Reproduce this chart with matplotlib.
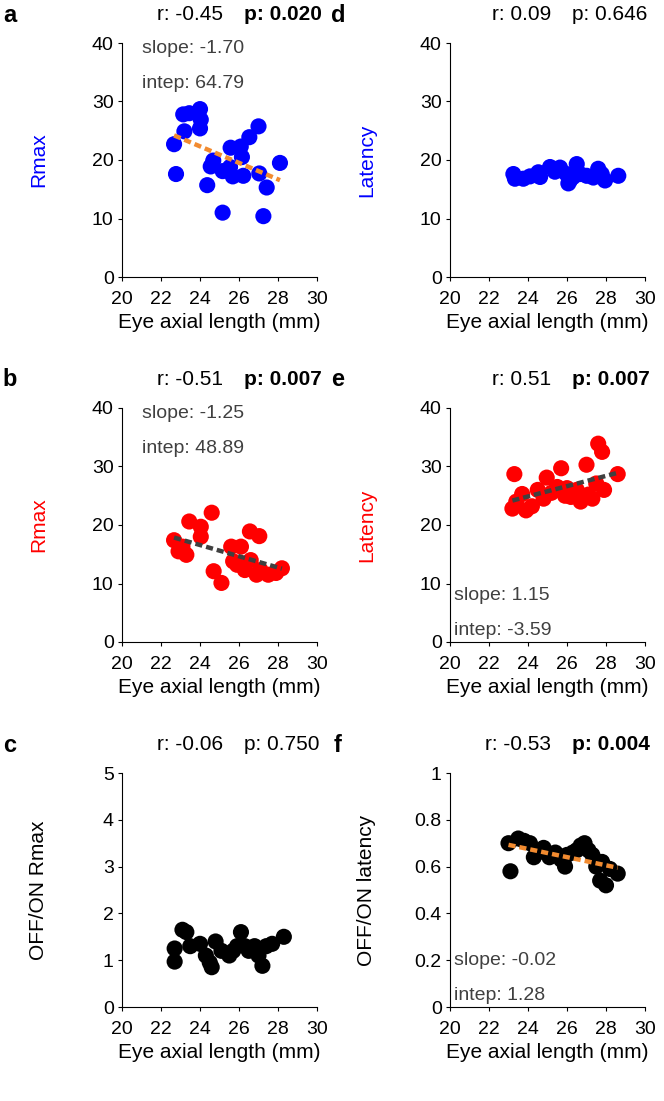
import matplotlib
matplotlib.use('Agg')
import matplotlib.pyplot as plt
import numpy as np

plt.rcParams['font.family'] = ['Liberation Sans', 'DejaVu Sans']
plt.rcParams['font.size'] = 14

# panel a: Rmax (blue)
xa = [23.14, 23.45, 24.0, 24.04, 24.0, 23.2, 22.67, 22.77, 27.0, 26.53, 25.57, 26.09, 26.15,
      24.68, 24.55, 25.16, 25.54, 25.68, 26.22, 27.04, 27.42, 28.1, 24.37, 25.16, 27.25]
ya = [27.8, 28.0, 28.7, 26.9, 25.4, 24.9, 22.7, 17.6, 25.75, 23.9, 22.1, 22.3, 20.5,
      19.9, 18.9, 18.1, 18.8, 17.2, 17.3, 17.7, 15.3, 19.5, 15.7, 11.0, 10.4]

# panel b: Rmax (red)
xb = [24.6, 23.45, 24.04, 24.04, 26.56, 27.04, 22.67, 25.6, 26.1, 23.1, 23.3, 24.7,
      25.1, 25.7, 25.9, 26.3, 26.6, 26.9, 27.1, 27.5, 27.9, 28.2, 22.9]
yb = [22.1, 20.6, 19.7, 18.0, 18.9, 18.1, 17.4, 16.3, 16.3, 16.3, 14.9, 12.1,
      10.1, 13.8, 13.2, 12.3, 14.0, 11.5, 12.3, 11.5, 11.8, 12.6, 15.5]

# panel c: OFF/ON Rmax
xc = [22.7, 22.7, 23.1, 23.3, 23.5, 24.0, 24.3, 24.5, 24.6, 24.8, 25.1, 25.5, 25.7,
      25.9, 26.1, 26.3, 26.5, 26.8, 27.0, 27.2, 27.4, 27.7, 28.3]
yc = [1.25, 0.97, 1.65, 1.6, 1.3, 1.35, 1.1, 0.95, 0.85, 1.4, 1.2, 1.1, 1.2,
      1.3, 1.6, 1.3, 1.2, 1.3, 1.1, 0.88, 1.3, 1.35, 1.5]

# panel d: latency (blue)
xd = [23.25, 23.33, 23.76, 24.53, 24.62, 25.13, 25.64, 25.98, 26.15, 26.07, 26.5, 26.67,
      27.01, 27.35, 27.6, 27.78, 27.95, 28.63, 24.1, 25.38, 26.32]
yd = [17.6, 16.8, 16.8, 17.9, 17.1, 18.8, 18.7, 17.6, 16.5, 16.0, 19.3, 17.6,
      17.3, 17.0, 18.5, 17.6, 16.5, 17.3, 17.2, 18.0, 17.1]

# panel e: latency (red)
xe = [27.6, 27.8, 27.0, 25.7, 23.3, 24.96, 28.6, 27.5, 27.9, 23.7, 24.5,
      23.2, 23.4, 23.9, 24.2, 24.8, 25.2, 25.5, 25.9, 26.2, 26.5, 26.7, 27.1, 27.3, 26.0]
ye = [33.9, 32.5, 30.3, 29.7, 28.7, 28.1, 28.7, 27.1, 26.0, 25.3, 26.0,
      22.8, 24.0, 22.5, 23.2, 24.5, 25.5, 26.5, 25.0, 24.8, 26.0, 24.0, 25.2, 24.5, 26.3]

# panel f: OFF/ON latency
xf = [23.0, 23.1, 23.5, 23.8, 24.1, 24.5, 24.8, 25.1, 25.4, 25.7, 26.0, 26.3, 26.5,
      26.7, 26.9, 27.1, 27.3, 27.5, 27.7, 27.8, 28.0, 28.2, 28.6, 24.3, 25.9]
yf = [0.70, 0.58, 0.72, 0.71, 0.70, 0.66, 0.68, 0.64, 0.66, 0.63, 0.65, 0.66, 0.67,
      0.69, 0.70, 0.67, 0.65, 0.60, 0.54, 0.62, 0.52, 0.59, 0.57, 0.64, 0.60]

azul = '#0000ff'
vermelho = '#ff0000'
laranja = '#f28b30'
cinza = '#404040'

paineis = [
    # letra, x, y, cor, ylabel, cor ylabel, ylim, yticks, r, p, p bold, linha, slope, intep, pos texto
    ('a', xa, ya, azul, 'Rmax', azul, 40, [0, 10, 20, 30, 40], 'r: -0.45', 'p: 0.020', True, laranja, 'slope: -1.70', 'intep: 64.79', 'top'),
    ('b', xb, yb, vermelho, 'Rmax', vermelho, 40, [0, 10, 20, 30, 40], 'r: -0.51', 'p: 0.007', True, cinza, 'slope: -1.25', 'intep: 48.89', 'top'),
    ('c', xc, yc, 'black', 'OFF/ON Rmax', 'black', 5, [0, 1, 2, 3, 4, 5], 'r: -0.06', 'p: 0.750', False, None, None, None, None),
    ('d', xd, yd, azul, 'Latency', azul, 40, [0, 10, 20, 30, 40], 'r: 0.09', 'p: 0.646', False, None, None, None, None),
    ('e', xe, ye, vermelho, 'Latency', vermelho, 40, [0, 10, 20, 30, 40], 'r: 0.51', 'p: 0.007', True, cinza, 'slope: 1.15', 'intep: -3.59', 'bottom'),
    ('f', xf, yf, 'black', 'OFF/ON latency', 'black', 1, [0, 0.2, 0.4, 0.6, 0.8, 1], 'r: -0.53', 'p: 0.004', True, laranja, 'slope: -0.02', 'intep: 1.28', 'bottom'),
]

fig = plt.figure(figsize=(6.64, 11.01), dpi=100)
W, H = 664, 1101
esquerdas = [122, 122, 122, 450, 450, 450]
topos = [43, 408, 773, 43, 408, 773]
larg, alt = 195, 234

for i, (letra, x, y, cor, ylab, cor_lab, ymax, yt, rtxt, ptxt, pbold, cor_linha, stxt, itxt, pos) in enumerate(paineis):
    ax = fig.add_axes([esquerdas[i] / W, 1 - (topos[i] + alt) / H, larg / W, alt / H])
    ax.scatter(x, y, s=135, color=cor, edgecolors='none', zorder=2)
    if cor_linha is not None:
        coef = np.polyfit(x, y, 1)
        xx = np.array([min(x), max(x)])
        ax.plot(xx, np.polyval(coef, xx), color=cor_linha, lw=3.2, ls=(0, (1.6, 0.9)), zorder=3)
    ax.set_xlim(20, 30)
    ax.set_ylim(0, ymax)
    ax.set_xticks([20, 22, 24, 26, 28, 30])
    ax.set_yticks(yt)
    if ymax == 1:
        ax.set_yticklabels(['0', '0.2', '0.4', '0.6', '0.8', '1'])
    ax.spines['top'].set_visible(False)
    ax.spines['right'].set_visible(False)
    ax.tick_params(direction='out', length=3, labelsize=14)
    ax.tick_params(axis='x', pad=7)
    ax.tick_params(axis='y', pad=3)
    ax.set_xlabel('Eye axial length (mm)', fontsize=15)
    ax.set_ylabel(ylab, color=cor_lab, fontsize=15)
    ax.yaxis.set_label_coords(-0.38, 0.5)
    ax.text(0.52, 1.12, rtxt, transform=ax.transAxes, ha='right', va='center', fontsize=15)
    ax.text(0.625, 1.12, ptxt, transform=ax.transAxes, ha='left', va='center', fontsize=15,
            fontweight='bold' if pbold else 'normal')
    if stxt is not None:
        if pos == 'top':
            x1, y1, y2 = 0.1, 0.975, 0.825
        else:
            x1, y1, y2 = 0.02, 0.20, 0.05
        ax.text(x1, y1, stxt, transform=ax.transAxes, ha='left', va='center', fontsize=14, color=cinza)
        ax.text(x1, y2, itxt, transform=ax.transAxes, ha='left', va='center', fontsize=14, color=cinza)
    fig.text((10 if i < 3 else 338) / W, 1 - (topos[i] - 28) / H, letra, fontsize=17,
             fontweight='bold', ha='center', va='center')

fig.savefig('out.png', dpi=100)
